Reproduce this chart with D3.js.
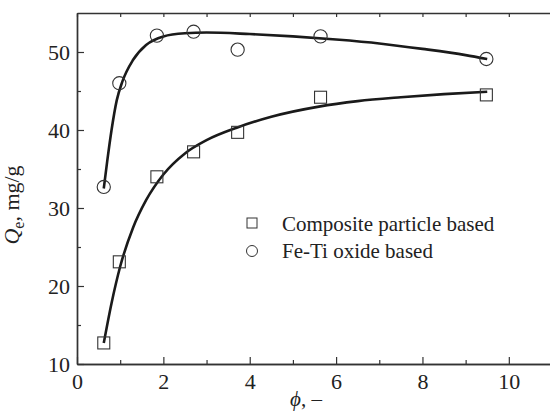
<!DOCTYPE html>
<html>
<head>
<meta charset="utf-8">
<script src="https://cdn.jsdelivr.net/npm/d3@7"></script>
<style>
    body { margin: 0; background: #fff; }
    #chart { width: 550px; height: 414px; }
    text { font-family: "Liberation Serif", "Times New Roman", serif; fill: #222; }
</style>
</head>
<body>
<div id="chart"></div>
<script>
// measured points
const phi = [0.62, 0.98, 1.85, 2.7, 3.72, 5.64, 9.48];
const composite = [12.7, 23.1, 34.0, 37.2, 39.7, 44.2, 44.5];
const feTi = [32.7, 46.0, 52.1, 52.6, 50.3, 52.0, 49.1];

// fitted lines
const fitCompX = [0.62, 0.8, 1.0, 1.3, 1.6, 2.0, 2.5, 3.0, 3.7, 4.5, 5.6, 6.5, 7.5, 8.5, 9.5];
const fitCompY = [12.7, 17.8, 22.5, 27.5, 31.0, 34.3, 37.0, 38.7, 40.3, 41.7, 43.0, 43.7, 44.2, 44.6, 44.9];
const fitFeX = [0.62, 0.7, 0.8, 0.92, 1.05, 1.3, 1.6, 2.0, 2.5, 3.0, 4.0, 5.0, 6.0, 7.0, 8.0, 9.0, 9.5];
const fitFeY = [32.5, 36.0, 40.0, 43.8, 46.2, 49.0, 50.9, 52.0, 52.4, 52.5, 52.3, 52.0, 51.6, 51.1, 50.4, 49.6, 49.1];

const xMajor = [0, 2, 4, 6, 8, 10];
const yMajor = [10, 20, 30, 40, 50];

const serif = '"Liberation Serif", "Times New Roman", serif';

const margin = { top: 13, left: 77, right: -2, bottom: 50 };
const width = 550 - margin.left - margin.right;
const height = 414 - margin.top - margin.bottom;

const svg = d3.select("#chart").append("svg")
    .attr("width", 550)
    .attr("height", 414);

const g = svg.append("g")
    .attr("transform", `translate(${margin.left},${margin.top})`);

const x = d3.scaleLinear().domain([0, 11]).range([0, width]);
const y = d3.scaleLinear().domain([10, 55]).range([height, 0]);

const axisColor = "#333";

// frame + ticks
function styleAxis(sel) {
    sel.attr("font-family", serif).attr("font-size", 22);
    sel.select(".domain").attr("stroke", axisColor).attr("stroke-width", 1.4);
    sel.selectAll(".tick line").attr("stroke", axisColor).attr("stroke-width", 1.2);
    sel.selectAll("text").attr("fill", "#222");
}

const xMinor = d3.range(0, 12, 1).filter(v => !xMajor.includes(v));
const yMinor = d3.range(15, 55, 10);

g.append("g").attr("transform", `translate(0,${height})`)
    .call(d3.axisBottom(x).tickValues(xMinor).tickSize(-4).tickFormat("").tickSizeOuter(0))
    .call(styleAxis);
g.append("g").attr("transform", `translate(0,${height})`)
    .call(d3.axisBottom(x).tickValues(xMajor).tickSize(-7).tickPadding(9).tickFormat(d3.format("d")).tickSizeOuter(0))
    .call(styleAxis);
g.append("g")
    .call(d3.axisTop(x).tickValues(d3.range(0, 12, 1)).tickSize(-4).tickFormat("").tickSizeOuter(0))
    .call(styleAxis);

g.append("g")
    .call(d3.axisLeft(y).tickValues(yMinor).tickSize(-4).tickFormat("").tickSizeOuter(0))
    .call(styleAxis);
g.append("g")
    .call(d3.axisLeft(y).tickValues(yMajor).tickSize(-7).tickPadding(7).tickFormat(d3.format("d")).tickSizeOuter(0))
    .call(styleAxis);

// fitted curves
const line = d3.line()
    .curve(d3.curveMonotoneX)
    .x(d => x(d[0]))
    .y(d => y(d[1]));

g.append("path")
    .attr("d", line(d3.zip(fitCompX, fitCompY)))
    .attr("fill", "none")
    .attr("stroke", "#1a1a1a")
    .attr("stroke-width", 2.6);

g.append("path")
    .attr("d", line(d3.zip(fitFeX, fitFeY)))
    .attr("fill", "none")
    .attr("stroke", "#1a1a1a")
    .attr("stroke-width", 2.6);

// markers
const sq = 12;
g.selectAll(".sq").data(d3.zip(phi, composite)).join("rect")
    .attr("class", "sq")
    .attr("x", d => x(d[0]) - sq / 2)
    .attr("y", d => y(d[1]) - sq / 2)
    .attr("width", sq)
    .attr("height", sq)
    .attr("fill", "none")
    .attr("stroke", "#333")
    .attr("stroke-width", 1.1);

g.selectAll(".ci").data(d3.zip(phi, feTi)).join("circle")
    .attr("class", "ci")
    .attr("cx", d => x(d[0]))
    .attr("cy", d => y(d[1]))
    .attr("r", 6.6)
    .attr("fill", "none")
    .attr("stroke", "#333")
    .attr("stroke-width", 1.1);

// legend
const legend = svg.append("g").attr("transform", "translate(252,223)");
legend.append("rect")
    .attr("x", -5).attr("y", -5).attr("width", 10).attr("height", 10)
    .attr("fill", "none").attr("stroke", "#333").attr("stroke-width", 1);
legend.append("text").attr("x", 30).attr("y", 8).attr("font-size", 21)
    .text("Composite particle based");
legend.append("circle")
    .attr("cx", 0).attr("cy", 28).attr("r", 5.5)
    .attr("fill", "none").attr("stroke", "#333").attr("stroke-width", 1);
legend.append("text").attr("x", 30).attr("y", 35).attr("font-size", 21)
    .text("Fe-Ti oxide based");

// axis titles
svg.append("text")
    .attr("x", 306).attr("y", 406)
    .attr("text-anchor", "middle")
    .attr("font-size", 21)
    .html('<tspan font-style="italic">ϕ</tspan>, –');

const yt = svg.append("text")
    .attr("transform", "translate(19,205) rotate(-90)")
    .attr("text-anchor", "middle")
    .attr("font-size", 22);
yt.append("tspan").attr("font-style", "italic").text("Q");
yt.append("tspan").attr("font-size", 16).attr("dy", 5).text("e");
yt.append("tspan").attr("dy", -5).text(", mg/g");
</script>
</body>
</html>
